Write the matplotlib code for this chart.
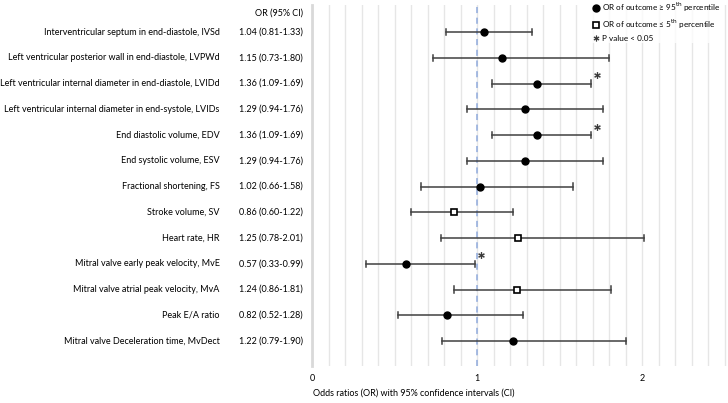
import numpy as np
import matplotlib.pyplot as plt
from matplotlib.lines import Line2D

plt.rcParams['font.family'] = ['Lato', 'DejaVu Sans']

# data
labels = ['Interventricular septum in end-diastole, IVSd',
          'Left ventricular posterior wall in end-diastole, LVPWd',
          'Left ventricular internal diameter in end-diastole, LVIDd',
          'Left ventricular internal diameter in end-systole, LVIDs',
          'End diastolic volume, EDV',
          'End systolic volume, ESV',
          'Fractional shortening, FS',
          'Stroke volume, SV',
          'Heart rate, HR',
          'Mitral valve early peak velocity, MvE',
          'Mitral valve atrial peak velocity, MvA',
          'Peak E/A ratio',
          'Mitral valve Deceleration time, MvDect']
odds = [1.04, 1.15, 1.36, 1.29, 1.36, 1.29, 1.02, 0.86, 1.25, 0.57, 1.24, 0.82, 1.22]
ci_low = [0.81, 0.73, 1.09, 0.94, 1.09, 0.94, 0.66, 0.60, 0.78, 0.33, 0.86, 0.52, 0.79]
ci_high = [1.33, 1.80, 1.69, 1.76, 1.69, 1.76, 1.58, 1.22, 2.01, 0.99, 1.81, 1.28, 1.90]
# 'hi' = outcome >= 95th percentile, 'lo' = outcome <= 5th percentile
group = ['hi', 'hi', 'hi', 'hi', 'hi', 'hi', 'hi', 'lo', 'lo', 'hi', 'lo', 'hi', 'hi']
significant = [False, False, True, False, True, False, False, False, False, True, False, False, False]

fig = plt.figure(figsize=(7.28, 4.03), dpi=100)
ax = fig.add_axes([312 / 728, 1 - 366 / 403, 1 - 312 / 728, (366 - 5) / 403])

fs = 6.5
ecol = '#404040'
star = r'$\ast$'
for i in range(len(labels)):
    ax.plot([ci_low[i], ci_high[i]], [i, i], color=ecol, lw=1.1, zorder=3)
    for x in (ci_low[i], ci_high[i]):
        ax.plot([x, x], [i - 0.12, i + 0.12], color=ecol, lw=1.1, zorder=3)
    if group[i] == 'hi':
        ax.plot(odds[i], i, 'o', color='black', ms=5, zorder=4)
    else:
        ax.plot(odds[i], i, 's', mfc='white', mec='black', mew=1.2, ms=4.5, zorder=4)
    if significant[i]:
        ax.plot(ci_high[i] + 0.035, i - 0.33, marker=star, color='#333333', ms=4.5, mew=0.4, ls='none')
    # row labels and OR column to the left of the axes
    ax.text(-0.56, i, labels[i], fontsize=fs, ha='right', va='center', clip_on=False)
    ax.text(-0.055, i, '%.2f (%.2f-%.2f)' % (odds[i], ci_low[i], ci_high[i]),
            fontsize=fs, ha='right', va='center', clip_on=False)

ax.text(-0.055, -0.74, 'OR (95% CI)', fontsize=fs, ha='right', va='center', clip_on=False)

ax.axvline(1, color='#8faadc', lw=1.1, ls=(0, (4, 3)), zorder=2)

ax.set_xlim(0, 2.52)
ax.set_ylim(12.97, -1.05)
ax.set_xticks([0, 1, 2])
ax.set_xticklabels(['0', '1', '2'], fontsize=fs)
ax.set_xticks(np.arange(0, 2.55, 0.1), minor=True)
ax.set_yticks([])
ax.tick_params(axis='x', which='both', length=0, pad=6)
ax.grid(True, which='both', axis='x', color='#e6e6e6', lw=1)
for s in ['top', 'right', 'bottom']:
    ax.spines[s].set_visible(False)
ax.spines['left'].set_color('#d9d9d9')
ax.spines['left'].set_linewidth(2)

fig.text(313 / 728, 1 - 393 / 403, 'Odds ratios (OR) with 95% confidence intervals (CI)',
         fontsize=fs, ha='left', va='center')

handles = [Line2D([], [], marker='o', color='black', ls='none', ms=5),
           Line2D([], [], marker='s', mfc='white', mec='black', mew=1.2, ls='none', ms=4.5),
           Line2D([], [], marker=star, color='#333333', mew=0.4, ls='none', ms=4)]
names = [r'OR of outcome ≥ 95$^{\mathrm{th}}$ percentile',
         r'OR of outcome ≤ 5$^{\mathrm{th}}$ percentile',
         'P value < 0.05']
leg = fig.legend(handles, names, loc='upper left', bbox_to_anchor=(590 / 728, 1 + 1 / 403),
                 frameon=True, fontsize=5.9, handletextpad=0.3, labelspacing=0.45,
                 handlelength=1.0, borderaxespad=0, borderpad=0.2)
leg.get_frame().set_facecolor('white')
leg.get_frame().set_edgecolor('none')

fig.savefig('out.png', dpi=100)
